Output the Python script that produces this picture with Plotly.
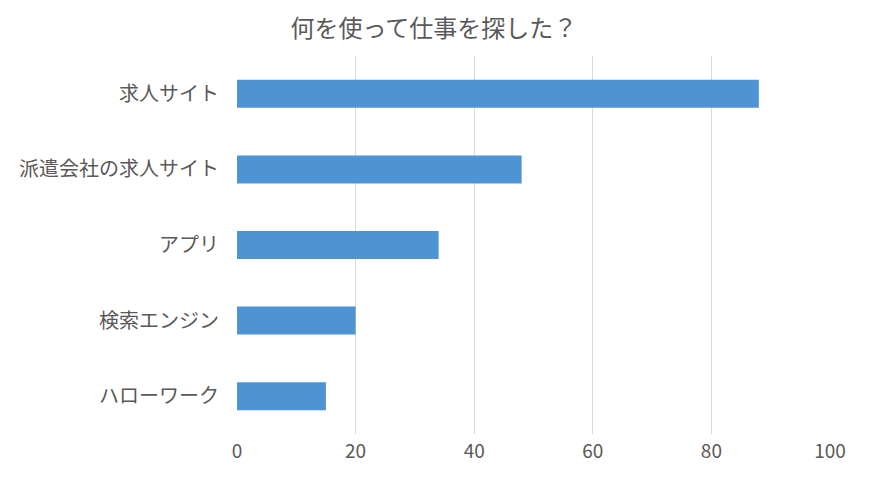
import plotly.graph_objects as go

categories = ["求人サイト", "派遣会社の求人サイト", "アプリ", "検索エンジン", "ハローワーク"]
values = [88, 48, 34, 20, 15]
x_ticks = [0, 20, 40, 60, 80, 100]
title = "何を使って仕事を探した？"

font_family = "Noto Sans CJK JP, Meiryo, sans-serif"
grey = "#595959"

fig = go.Figure(go.Bar(
    x=values, y=categories, orientation="h",
    marker=dict(color="#4e94d5", line=dict(width=0)),
    hoverinfo="x+y",
))

fig.update_layout(
    width=881, height=486,
    margin=dict(l=229, r=59, t=48, b=60, autoexpand=False),
    paper_bgcolor="white", plot_bgcolor="white",
    bargap=0.63,
    showlegend=False,
    font=dict(family=font_family, color=grey),
    title=dict(text=title, x=0.4835, xanchor="center", y=0.958, yanchor="middle",
               font=dict(size=24, color=grey, family=font_family)),
    xaxis=dict(range=[0, 100], tickvals=x_ticks, showgrid=True, gridcolor="#d9d9d9",
               gridwidth=1, zeroline=False, showline=False, ticks="",
               tickfont=dict(size=19, color=grey), ticklabelstandoff=4),
    yaxis=dict(autorange="reversed", showgrid=False, showline=False, ticks="",
               tickfont=dict(size=20, color=grey), ticklabelstandoff=17),
)

fig.write_html("out.html")
